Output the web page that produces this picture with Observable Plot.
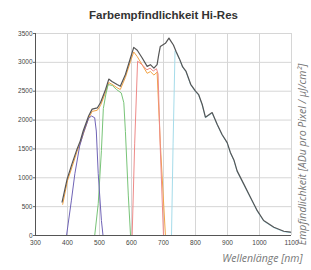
<!DOCTYPE html>
<html><head><meta charset="utf-8">
<script src="https://cdn.jsdelivr.net/npm/d3@7"></script>
<script src="https://cdn.jsdelivr.net/npm/@observablehq/plot@0.6"></script>
<style>html,body{margin:0;padding:0;background:#fff}svg{display:block}</style>
</head><body><div id="chart"></div>
<script>
const title = "Farbempfindlichkeit Hi-Res";
const xLabel = "Wellenlänge [nm]";
const yLabel = "Empfindlichkeit [ADu pro Pixel / µJ/cm²]";
const xTicks = [300, 400, 500, 600, 700, 800, 900, 1000, 1100];
const yTicks = [0, 500, 1000, 1500, 2000, 2500, 3000, 3500];

// [Wellenlänge nm, Empfindlichkeit]
const gesamt = [[383,580],[399,980],[414,1240],[430,1500],[440,1640],[449,1810],[466,2070],[477,2190],[493,2210],[503,2300],[519,2530],[529,2710],[539,2670],[555,2615],[565,2585],[581,2790],[597,3080],[607,3260],[618,3210],[633,3080],[649,2930],[659,2960],[670,2900],[680,2960],[685,3130],[690,3275],[706,3330],[717,3420],[724,3360],[731,3300],[740,3180],[750,3060],[760,2920],[770,2850],[785,2620],[800,2500],[810,2440],[821,2270],[831,2050],[852,2130],[868,1925],[883,1750],[899,1610],[909,1440],[920,1310],[930,1120],[951,890],[972,660],[993,430],[1013,260],[1045,143],[1076,74],[1097,57]];
const blau = [[397,0],[402,200],[412,600],[423,1070],[438,1550],[450,1780],[466,2030],[475,2070],[485,2040],[490,1810],[496,1070],[506,260],[511,0]];
const gruen = [[485,0],[496,550],[506,1470],[512,2200],[520,2450],[527,2615],[540,2600],[553,2530],[568,2470],[576,2300],[581,1800],[590,700],[597,0]];
const rot = [[602,0],[610,1600],[619,3020],[635,2950],[648,2870],[658,2900],[668,2850],[678,2890],[683,2800],[690,1500],[700,0]];
const orange = [[385,540],[400,950],[415,1200],[430,1460],[440,1600],[450,1770],[466,2030],[477,2150],[493,2170],[503,2250],[519,2480],[529,2650],[539,2620],[555,2560],[565,2530],[581,2740],[597,3020],[607,3180],[618,3100],[633,2960],[649,2810],[659,2840],[670,2780],[680,2830],[690,1600],[706,0]];
const nir = [[725,0],[730,1600],[736,3200],[740,3170],[750,3050],[760,2910],[770,2840],[785,2610],[800,2490],[810,2430],[821,2260],[831,2040],[852,2120],[868,1915],[883,1740],[899,1600],[909,1430],[920,1300],[930,1110],[951,880],[972,650],[993,420],[1013,250],[1045,135],[1076,66],[1097,50]];

const font = "Liberation Sans, Arial, sans-serif";
const labelFont = "Open Sans, Liberation Sans, sans-serif";
const X = d => d[0], Y = d => d[1];

const chart = Plot.plot({
  width: 311, height: 270,
  marginTop: 33, marginBottom: 35, marginLeft: 35, marginRight: 20,
  style: {fontFamily: font, background: "#fff", overflow: "visible"},
  x: {domain: [300, 1100]},
  y: {domain: [0, 3500]},
  marks: [
    Plot.gridX(xTicks, {stroke: "#d6d6d6", strokeOpacity: 1}),
    Plot.gridY(yTicks, {stroke: "#d6d6d6", strokeOpacity: 1}),
    Plot.axisX(xTicks, {tickSize: 0, tickPadding: 5, fontSize: 6.5, fill: "#444", label: null, tickFormat: d => String(d)}),
    Plot.axisY(yTicks, {tickSize: 2, tickPadding: 1, fontSize: 6.5, fill: "#444", stroke: "#666", label: null, tickFormat: d => String(d)}),
    Plot.line(nir, {x: X, y: Y, stroke: "#a6dcea", strokeWidth: 1}),
    Plot.line(orange, {x: X, y: Y, stroke: "#f2a446", strokeWidth: 1}),
    Plot.line(rot, {x: X, y: Y, stroke: "#ee8a88", strokeWidth: 1}),
    Plot.line(gruen, {x: X, y: Y, stroke: "#78c478", strokeWidth: 1}),
    Plot.line(blau, {x: X, y: Y, stroke: "#6f63b6", strokeWidth: 1}),
    Plot.line(gesamt, {x: X, y: Y, stroke: "#555", strokeWidth: 1.2}),
    Plot.ruleX([300], {stroke: "#555"}),
    Plot.ruleY([0], {stroke: "#555"}),
    Plot.text([title], {frameAnchor: "top", dy: -18, lineAnchor: "middle", fontSize: 11.5, fontWeight: "bold", fill: "#333"}),
    Plot.text([xLabel], {frameAnchor: "bottom-right", textAnchor: "end", lineAnchor: "middle", dx: 11, dy: 23, fontSize: 10.5, fontStyle: "italic", fontFamily: labelFont, fill: "#777"}),
    Plot.text([yLabel], {frameAnchor: "right", rotate: -90, textAnchor: "middle", lineAnchor: "middle", dx: 11, dy: 20, fontSize: 10.5, fontStyle: "italic", fontFamily: labelFont, fill: "#777"})
  ]
});
document.getElementById("chart").appendChild(chart);
</script>
</body></html>
